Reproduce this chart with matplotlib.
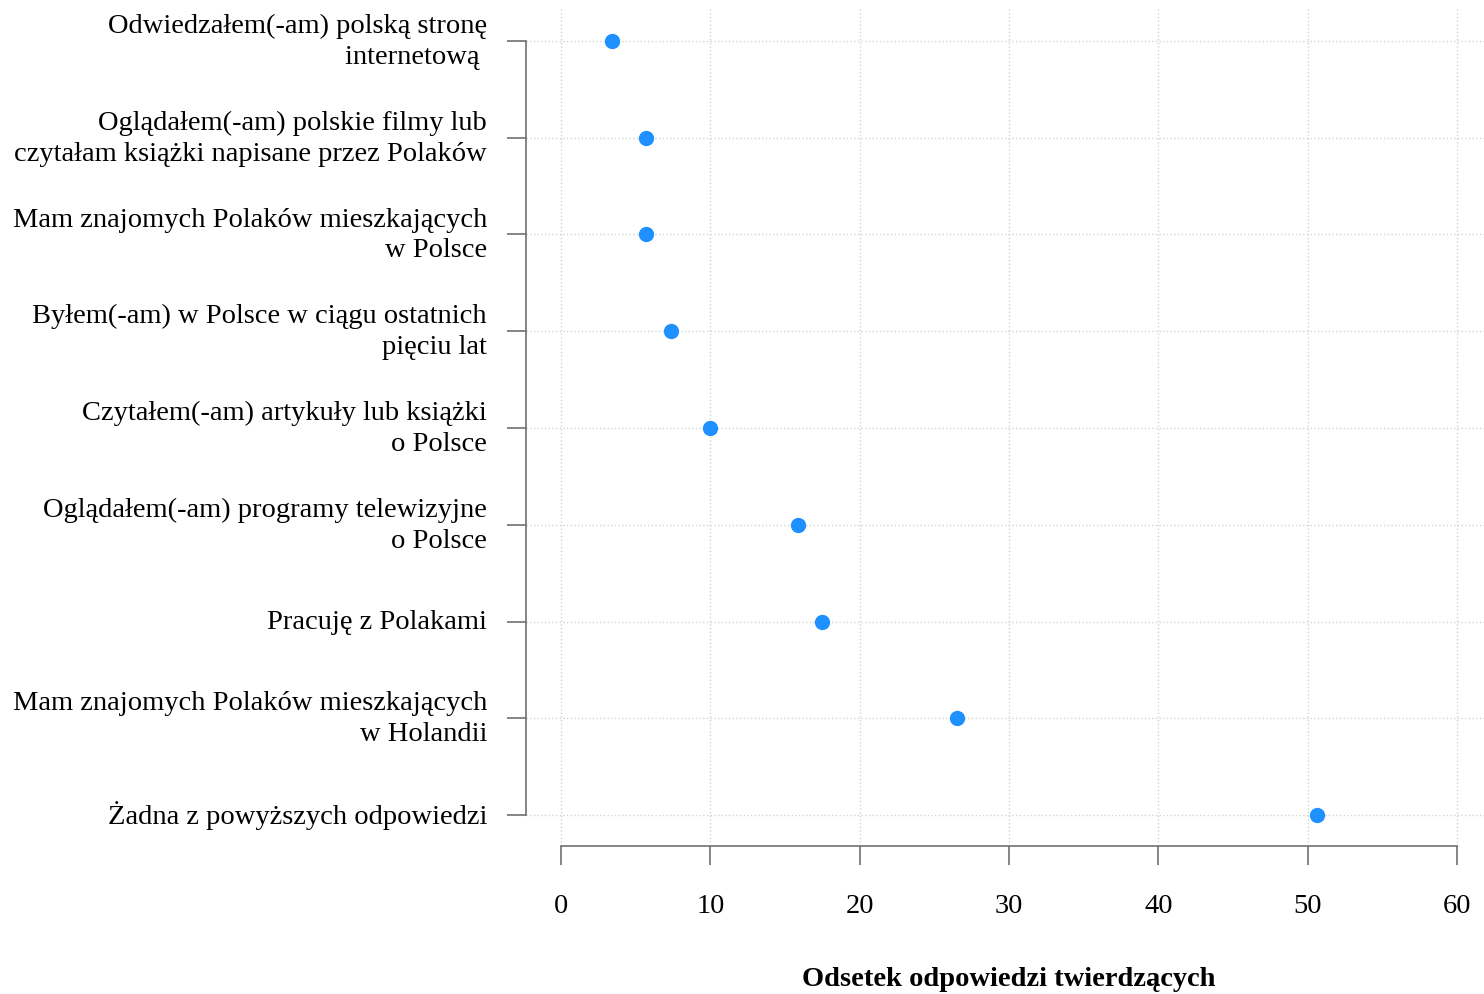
import matplotlib.pyplot as plt

# dane
categories = [
    "Odwiedzałem(-am) polską stronę\ninternetową ",
    "Oglądałem(-am) polskie filmy lub\nczytałam książki napisane przez Polaków",
    "Mam znajomych Polaków mieszkających\nw Polsce",
    "Byłem(-am) w Polsce w ciągu ostatnich\npięciu lat",
    "Czytałem(-am) artykuły lub książki\no Polsce",
    "Oglądałem(-am) programy telewizyjne\no Polsce",
    "Pracuję z Polakami",
    "Mam znajomych Polaków mieszkających\nw Holandii",
    "Żadna z powyższych odpowiedzi",
]
values = [3.4, 5.7, 5.7, 7.4, 10.0, 15.9, 17.5, 26.5, 50.6]
xticks = [0, 10, 20, 30, 40, 50, 60]

plt.rcParams['font.family'] = ['Liberation Serif', 'DejaVu Serif']

fig = plt.figure(figsize=(14.84, 9.95), dpi=100)
ax = fig.add_axes([526 / 1484, 1 - 847 / 995, 1 - 526 / 1484, (847 - 9) / 995])

pos = list(range(1, len(categories) + 1))
ax.plot(values, pos, 'o', color='#1E90FF', markersize=10, zorder=3, clip_on=False)

ax.set_xlim(-2.34, 61.8)
ax.set_ylim(9.32, 0.66)

ax.set_yticks(pos)
ax.set_yticklabels(categories, fontsize=20.5, ha='right', va='center', linespacing=1.3)
ax.set_xticks(xticks)
ax.set_xticklabels([str(t) for t in xticks], fontsize=20.5)

ax.grid(True, color='#D3D3D3', linestyle=':', linewidth=1.0)
ax.set_axisbelow(True)

for s in ['top', 'right']:
    ax.spines[s].set_visible(False)
ax.spines['left'].set_bounds(1, 9)
ax.spines['bottom'].set_bounds(0, 60)
for s in ['left', 'bottom']:
    ax.spines[s].set_color('#707070')
    ax.spines[s].set_linewidth(1.2)

ax.tick_params(axis='y', length=14, width=1.2, color='#707070', pad=14)
ax.tick_params(axis='x', length=14, width=1.2, color='#707070', pad=20)

ax.set_xlabel("Odsetek odpowiedzi twierdzących", fontsize=20.5, fontweight='bold')
ax.xaxis.set_label_coords((1009 - 526) / (1484 - 526), -(980 - 847) / 838)
ax.xaxis.label.set_va('center')

fig.savefig('out.png', dpi=100)
